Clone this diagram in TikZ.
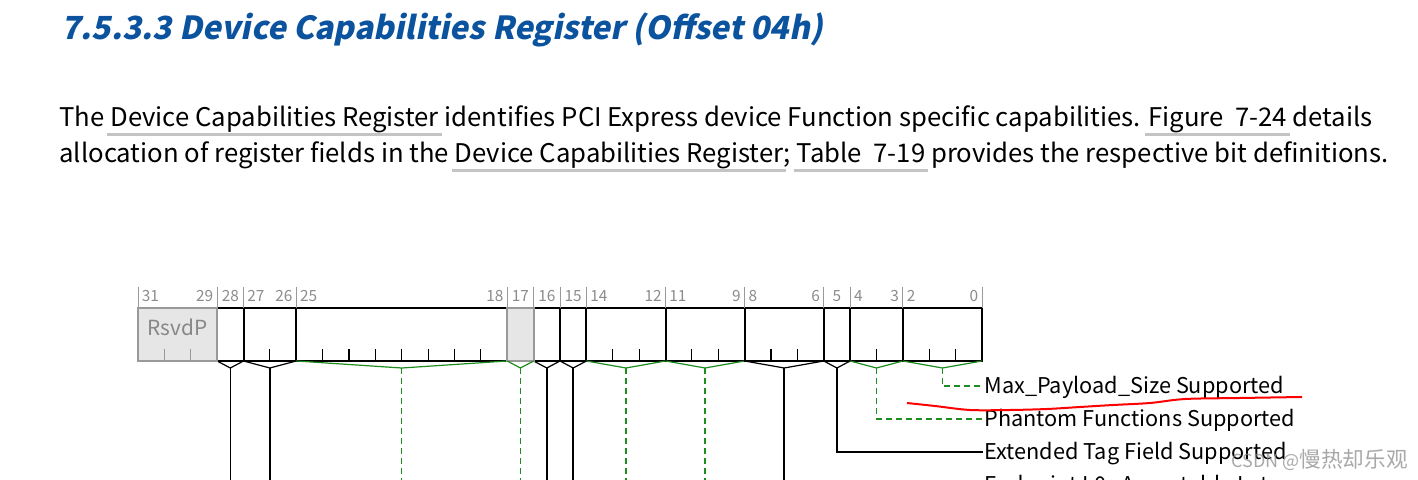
\documentclass[tikz,border=0pt]{standalone}
\usepackage{fontspec}
\setmainfont{Noto Sans CJK SC}
\newfontfamily\headfont[FakeSlant=0.2]{Noto Sans CJK SC}
\usetikzlibrary{positioning,calc}
\definecolor{headblue}{HTML}{0B539E}
\definecolor{lnkgray}{HTML}{C4C4C4}
\definecolor{bitgray}{HTML}{8C8C8C}
\definecolor{rsvfill}{HTML}{E6E6E6}
\definecolor{rsvline}{HTML}{999999}
\definecolor{fldgreen}{HTML}{1E8C1E}

\newlength\lnkw
\newcommand\lnk[1]{\settowidth\lnkw{#1}\rlap{\hspace{-1.5pt}\textcolor{lnkgray}{\rule[-4.75pt]{\dimexpr\lnkw+3pt\relax}{1.5pt}}}#1}

\begin{document}
\begin{tikzpicture}[x=0.5pt,y=-0.5pt]
  \tikzstyle{cell} = [draw, line width=1pt, anchor=north west, minimum height=26.5pt, inner sep=0pt, outer sep=0pt]
  \tikzstyle{rsvcell} = [cell, draw=rsvline, fill=rsvfill]
  \tikzstyle{nobr} = [draw=none]
  \tikzstyle{blkbr} = [line width=0.6pt]
  \tikzstyle{grnbr} = [line width=0.6pt, fldgreen]
  \tikzstyle{blkln} = [line width=0.7pt]
  \tikzstyle{grnln} = [line width=0.7pt, fldgreen, dash pattern=on 3pt off 2pt]
  \tikzstyle{bitnum} = [font=\fontsize{7.7}{9}\selectfont, text=bitgray, inner sep=1.75pt]
  \tikzstyle{fieldlbl} = [font=\fontsize{10.85}{13}\selectfont, anchor=west, text height=7.3pt, text depth=0pt, inner sep=0.5pt]
  \tikzstyle{para} = [anchor=base west, inner sep=0pt, font=\fontsize{12.85}{15}\selectfont]

  \useasboundingbox (0,0) rectangle (1418,480);
  \clip (0,0) rectangle (1418,480);
  \fill[white] (0,0) rectangle (1418,480);

  % heading and text
  \node[anchor=base west, inner sep=0pt, text=headblue, font=\headfont\bfseries\fontsize{15.9}{19}\selectfont] (head) at (61,40) {7.5.3.3 Device Capabilities Register (Offset 04h)};
  \node[para] (para1) at (59,127) {The \lnk{Device Capabilities Register} identifies PCI Express device Function specific capabilities. \lnk{Figure\ \ 7-24} details};
  \node[para] (para2) at (59,162.5) {allocation of register fields in the \lnk{Device Capabilities Register}; \lnk{Table\ \ 7-19} provides the respective bit definitions.};

  % register fields
  \foreach \hi/\lo/\cs/\bs in {28/28/cell/blkbr, 27/26/cell/blkbr, 25/18/cell/grnbr, 16/16/cell/blkbr, 15/15/cell/blkbr, 14/12/cell/grnbr, 11/9/cell/grnbr, 8/6/cell/blkbr, 5/5/cell/blkbr, 4/3/cell/grnbr, 2/0/cell/grnbr, 31/29/rsvcell/nobr, 17/17/rsvcell/grnbr} {
    \pgfmathsetmacro\lx{138+(31-\hi)*26.375}
    \pgfmathsetmacro\rx{138+(32-\lo)*26.375}
    \pgfmathsetmacro\fw{(\hi-\lo+1)*13.1875}
    \node[\cs, minimum width=\fw pt] (f\hi) at (\lx,308) {};
    \coordinate[below=3.5pt of f\hi] (p\hi);
    \draw[\bs] (f\hi.south west) -- (p\hi) -- (f\hi.south east);
    \draw[rsvline, line width=0.5pt] (\lx,287) -- (\lx,308);
    \ifnum\hi=\lo
      \node[bitnum, anchor=base] (n\hi) at ($(\lx,302)!0.5!(\rx,302)$) {\hi};
    \else
      \node[bitnum, anchor=base west] (n\hi) at (\lx,302) {\hi};
      \node[bitnum, anchor=base east] (n\lo) at (\rx,302) {\lo};
    \fi
  }
  \draw[rsvline, line width=0.5pt] (f2.north east) -- ++(0,-21);
  \node[text=black!47, font=\fontsize{10.4}{12}\selectfont, anchor=base] (rsvd) at (f31.north |- 0,336) {RsvdP};

  % bit ticks
  \foreach \k in {5,7,8,9,10,11,12,13,18,19,21,22,24,25,28,30,31}
    \draw[line width=0.6pt] ({138+\k*26.375},349) -- ++(0,12);
  \foreach \k in {1,2}
    \draw[rsvline, line width=0.6pt] ({138+\k*26.375},349) -- ++(0,12);

  % field lines
  \coordinate (bot) at (0,490);
  \foreach \b in {28,27,16,15} \draw[blkln] (p\b) -- (p\b |- bot);
  \foreach \b in {25,17,14,11} \draw[grnln] (p\b) -- (p\b |- bot);

  \node[fieldlbl] (mps) at (983,386) {Max\_Payload\_Size Supported};
  \node[fieldlbl] (pfs) at (983,419) {Phantom Functions Supported};
  \node[fieldlbl] (etf) at (983,452) {Extended Tag Field Supported};
  \node[fieldlbl] (l0s) at (983,485) {Endpoint L0s Acceptable Latency};
  \draw[grnln] (p2) |- (mps);
  \draw[grnln] (p4) |- (pfs);
  \draw[blkln] (p5) |- (etf);
  \draw[blkln] (p8) |- (l0s);

  % red pen mark and watermark
  \draw[red, line width=1pt] plot[smooth] coordinates {(907,403) (935,406) (970,410) (1010,410) (1047,409) (1080,407) (1113,405) (1150,403) (1185,399) (1240,398) (1302,397)};
  \node[anchor=base west, inner sep=0pt, text=black!45, opacity=0.75, font=\fontsize{10.8}{13}\selectfont] (mark) at (1231,467) {{\fontsize{9}{11}\selectfont CSDN @}慢热却乐观};
\end{tikzpicture}
\end{document}
